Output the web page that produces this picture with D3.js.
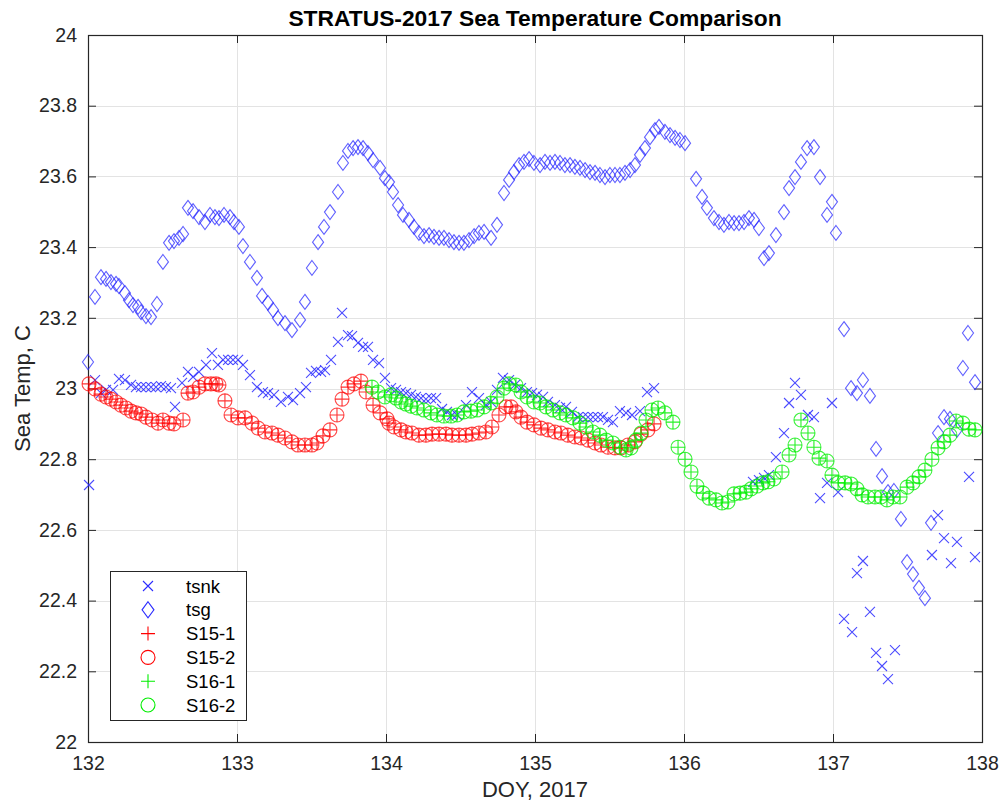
<!DOCTYPE html>
<html>
<head>
<meta charset="utf-8">
<script src="https://cdn.jsdelivr.net/npm/d3@7"></script>
<style>
  html, body { margin: 0; padding: 0; background: #fff; }
  svg { display: block; font-family: "Liberation Sans", Arial, Helvetica, sans-serif; }
</style>
</head>
<body>
<svg id="chart" width="1003" height="807"></svg>
<script>
// Sea temperature records, [DOY, temperature °C]

// ship thermosalinograph intake (tsnk)
const tsnk = [
  [132.007,22.727],[132.047,23.024],[132.087,22.987],[132.121,22.996],[132.168,22.996],[132.208,23.027],
  [132.248,23.024],[132.289,23.010],[132.322,23.004],[132.356,23.004],[132.389,23.004],[132.423,23.004],
  [132.456,23.004],[132.490,23.007],[132.523,23.004],[132.557,23.001],[132.584,22.948],[132.631,23.016],
  [132.671,23.047],[132.705,23.033],[132.745,23.047],[132.792,23.067],[132.832,23.100],[132.872,23.067],
  [132.906,23.081],[132.940,23.081],[132.973,23.081],[133.007,23.081],[133.040,23.067],[133.087,23.038],
  [133.134,23.004],[133.174,22.990],[133.208,22.987],[133.248,22.982],[133.295,22.962],[133.342,22.976],
  [133.376,22.967],[133.423,22.987],[133.463,23.004],[133.497,23.044],[133.530,23.050],[133.564,23.047],
  [133.591,23.052],[133.631,23.081],[133.678,23.132],[133.705,23.214],[133.745,23.151],[133.772,23.148],
  [133.812,23.129],[133.846,23.118],[133.879,23.118],[133.913,23.081],[133.953,23.072],[133.993,23.030],
  [134.034,23.001],[134.067,22.996],[134.101,22.990],[134.134,22.987],[134.168,22.982],[134.201,22.976],
  [134.235,22.973],[134.268,22.970],[134.302,22.973],[134.336,22.973],[134.376,22.942],[134.409,22.934],
  [134.443,22.925],[134.477,22.925],[134.537,22.953],[134.577,22.990],[134.624,22.973],[134.671,22.953],
  [134.705,22.962],[134.745,22.996],[134.785,23.030],[134.826,23.024],[134.866,23.010],[134.906,23.001],
  [134.946,22.990],[134.980,22.987],[135.013,22.982],[135.054,22.976],[135.087,22.962],[135.134,22.953],
  [135.168,22.945],[135.208,22.948],[135.248,22.934],[135.289,22.919],[135.322,22.919],[135.356,22.919],
  [135.389,22.919],[135.423,22.919],[135.456,22.919],[135.490,22.911],[135.523,22.905],[135.570,22.936],
  [135.611,22.931],[135.651,22.925],[135.705,22.936],[135.752,22.990],[135.799,23.001],
  [136.463,22.736],[136.503,22.741],[136.537,22.747],[136.570,22.755],[136.617,22.806],[136.671,22.874],
  [136.705,22.959],[136.745,23.016],[136.785,22.982],[136.832,22.925],[136.872,22.919],[136.913,22.690],
  [136.960,22.733],[136.993,22.959],[137.034,22.707],[137.074,22.348],[137.128,22.311],[137.161,22.478],
  [137.201,22.512],[137.248,22.368],[137.289,22.252],[137.329,22.215],[137.369,22.178],[137.416,22.260],
  [137.664,22.529],[137.705,22.642],[137.745,22.577],[137.792,22.506],[137.832,22.566],[137.913,22.750],
  [137.953,22.523]
];

// hull-mounted sensor (tsg)
const tsg = [
  [132.000,23.075],[132.047,23.259],[132.087,23.315],[132.121,23.310],[132.154,23.301],[132.188,23.296],
  [132.208,23.290],[132.248,23.270],[132.275,23.250],[132.302,23.236],[132.336,23.231],[132.356,23.216],
  [132.389,23.205],[132.423,23.202],[132.463,23.239],[132.503,23.358],[132.544,23.412],[132.577,23.417],
  [132.611,23.426],[132.638,23.437],[132.671,23.511],[132.705,23.502],[132.745,23.485],[132.785,23.471],
  [132.819,23.491],[132.852,23.485],[132.879,23.482],[132.913,23.491],[132.953,23.485],[132.980,23.471],
  [133.013,23.457],[133.040,23.403],[133.087,23.358],[133.134,23.313],[133.168,23.262],[133.208,23.242],
  [133.242,23.222],[133.275,23.199],[133.322,23.185],[133.369,23.165],[133.423,23.194],[133.456,23.245],
  [133.503,23.341],[133.544,23.414],[133.584,23.457],[133.624,23.499],[133.678,23.556],[133.711,23.638],
  [133.745,23.672],[133.779,23.680],[133.812,23.683],[133.846,23.680],[133.879,23.666],[133.913,23.646],
  [133.960,23.624],[133.993,23.595],[134.020,23.584],[134.047,23.556],[134.081,23.519],[134.114,23.491],
  [134.154,23.477],[134.188,23.457],[134.221,23.440],[134.255,23.431],[134.289,23.434],[134.322,23.429],
  [134.356,23.426],[134.389,23.426],[134.423,23.420],[134.456,23.414],[134.490,23.412],[134.523,23.412],
  [134.557,23.420],[134.591,23.431],[134.624,23.440],[134.658,23.443],[134.705,23.426],[134.745,23.463],
  [134.792,23.553],[134.826,23.590],[134.859,23.612],[134.893,23.632],[134.926,23.641],[134.960,23.649],
  [134.993,23.638],[135.034,23.632],[135.067,23.641],[135.101,23.638],[135.134,23.641],[135.168,23.638],
  [135.201,23.632],[135.235,23.632],[135.268,23.627],[135.302,23.624],[135.336,23.618],[135.369,23.612],
  [135.403,23.610],[135.436,23.604],[135.470,23.598],[135.503,23.604],[135.537,23.604],[135.570,23.604],
  [135.604,23.610],[135.638,23.618],[135.671,23.632],[135.705,23.661],[135.738,23.680],[135.772,23.711],
  [135.805,23.731],[135.832,23.740],[135.872,23.726],[135.906,23.717],[135.940,23.709],[135.973,23.703],
  [136.007,23.694],[136.081,23.593],[136.121,23.542],[136.154,23.511],[136.201,23.482],[136.235,23.471],
  [136.268,23.463],[136.302,23.471],[136.336,23.468],[136.369,23.468],[136.403,23.471],[136.436,23.482],
  [136.470,23.477],[136.503,23.454],[136.537,23.369],[136.570,23.383],[136.617,23.434],[136.671,23.499],
  [136.705,23.567],[136.745,23.598],[136.785,23.641],[136.826,23.680],[136.872,23.683],[136.913,23.598],
  [136.960,23.491],[136.993,23.528],[137.020,23.440],[137.074,23.168],[137.121,23.001],[137.161,22.987],
  [137.201,23.024],[137.248,22.979],[137.289,22.829],[137.329,22.752],[137.369,22.707],[137.409,22.710],
  [137.456,22.631],[137.497,22.509],[137.537,22.475],[137.577,22.436],[137.617,22.407],[137.658,22.620],
  [137.705,22.874],[137.745,22.919],[137.785,22.914],[137.832,22.883],[137.872,23.058],[137.906,23.157],
  [137.953,23.018]
];

// SBE sensors on the buoy, model 15 (channels -1 and -2 track each other)
const s15 = [
  [132.007,23.013],[132.047,22.999],[132.087,22.984],[132.121,22.976],[132.154,22.970],[132.188,22.962],
  [132.221,22.953],[132.255,22.945],[132.289,22.936],[132.322,22.931],[132.356,22.928],[132.389,22.919],
  [132.430,22.911],[132.470,22.902],[132.503,22.911],[132.544,22.902],[132.577,22.900],[132.638,22.911],
  [132.671,22.987],[132.705,22.990],[132.745,23.004],[132.785,23.013],[132.825,23.013],[132.859,23.013],
  [132.879,23.010],[132.919,22.965],[132.960,22.925],[133.007,22.917],[133.054,22.917],[133.101,22.902],
  [133.141,22.888],[133.188,22.877],[133.235,22.874],[133.275,22.868],[133.322,22.860],[133.369,22.849],
  [133.409,22.840],[133.456,22.840],[133.503,22.840],[133.537,22.846],[133.577,22.866],[133.624,22.883],
  [133.671,22.925],[133.705,22.970],[133.745,23.004],[133.785,23.013],[133.832,23.021],[133.866,22.990],
  [133.913,22.953],[133.960,22.931],[134.007,22.914],[134.020,22.902],[134.054,22.891],[134.101,22.883],
  [134.134,22.877],[134.174,22.874],[134.221,22.868],[134.268,22.868],[134.309,22.871],[134.356,22.871],
  [134.403,22.871],[134.443,22.868],[134.490,22.868],[134.537,22.868],[134.577,22.871],[134.624,22.874],
  [134.671,22.877],[134.711,22.891],[134.758,22.925],[134.805,22.948],[134.839,22.948],[134.872,22.934],
  [134.906,22.919],[134.946,22.905],[134.993,22.897],[135.040,22.888],[135.087,22.883],[135.134,22.877],
  [135.174,22.874],[135.221,22.868],[135.268,22.863],[135.309,22.860],[135.356,22.854],[135.403,22.846],
  [135.443,22.840],[135.490,22.834],[135.537,22.832],[135.577,22.832],[135.624,22.840],[135.671,22.849],
  [135.711,22.871],[135.758,22.883],[135.799,22.900]
];

// SBE sensors on the buoy, model 16 (channels -1 and -2 track each other)
const s16 = [
  [133.906,23.004],[133.946,22.990],[133.993,22.976],[134.034,22.982],[134.067,22.973],[134.101,22.962],
  [134.134,22.956],[134.168,22.950],[134.208,22.945],[134.255,22.939],[134.302,22.931],[134.342,22.925],
  [134.389,22.922],[134.436,22.922],[134.477,22.925],[134.523,22.934],[134.570,22.936],[134.611,22.939],
  [134.658,22.948],[134.705,22.959],[134.745,22.976],[134.792,23.001],[134.826,23.013],[134.872,23.010],
  [134.906,22.990],[134.946,22.976],[134.993,22.962],[135.034,22.959],[135.074,22.948],[135.121,22.939],
  [135.168,22.931],[135.208,22.925],[135.255,22.917],[135.302,22.902],[135.342,22.891],[135.389,22.877],
  [135.436,22.868],[135.477,22.854],[135.523,22.846],[135.570,22.834],[135.611,22.826],[135.644,22.832],
  [135.678,22.854],[135.711,22.874],[135.745,22.911],[135.785,22.939],[135.826,22.945],[135.872,22.931],
  [135.926,22.905],[135.960,22.834],[136.007,22.800],[136.047,22.764],[136.087,22.724],[136.128,22.704],
  [136.168,22.690],[136.215,22.685],[136.255,22.676],[136.295,22.679],[136.336,22.702],[136.376,22.704],
  [136.416,22.707],[136.450,22.716],[136.490,22.724],[136.530,22.733],[136.564,22.736],[136.604,22.744],
  [136.658,22.764],[136.705,22.812],[136.745,22.840],[136.785,22.911],[136.832,22.874],[136.872,22.834],
  [136.906,22.803],[136.960,22.795],[136.993,22.755],[137.034,22.733],[137.081,22.733],[137.121,22.730],
  [137.161,22.716],[137.195,22.699],[137.235,22.693],[137.282,22.693],[137.322,22.693],[137.362,22.685],
  [137.403,22.693],[137.450,22.693],[137.497,22.721],[137.537,22.733],[137.577,22.750],[137.617,22.769],
  [137.664,22.800],[137.705,22.832],[137.745,22.849],[137.785,22.868],[137.826,22.908],[137.872,22.902],
  [137.913,22.885],[137.953,22.883]
];

const xTicks = [132, 133, 134, 135, 136, 137, 138];
const yTicks = [22, 22.2, 22.4, 22.6, 22.8, 23, 23.2, 23.4, 23.6, 23.8, 24];
const legendLabels = ["tsnk", "tsg", "S15-1", "S15-2", "S16-1", "S16-2"];

const BLUE = "#2b2bff", RED = "#ff0000", GREEN = "#00ee00";

const svg = d3.select("#chart");
const m = { left: 88, right: 982, top: 35, bottom: 742 };

const x = d3.scaleLinear().domain([132, 138]).range([m.left, m.right]);
const y = d3.scaleLinear().domain([22, 24]).range([m.bottom, m.top]);

// grid
const grid = svg.append("g").attr("stroke", "#e3e3e3").attr("stroke-width", 1);
grid.selectAll(".gx").data(xTicks.slice(1, -1)).join("line")
  .attr("x1", d => Math.round(x(d)) + 0.5).attr("x2", d => Math.round(x(d)) + 0.5)
  .attr("y1", m.top).attr("y2", m.bottom);
grid.selectAll(".gy").data(yTicks.slice(1, -1)).join("line")
  .attr("y1", d => Math.round(y(d)) + 0.5).attr("y2", d => Math.round(y(d)) + 0.5)
  .attr("x1", m.left).attr("x2", m.right);

// axes with inward ticks on all four sides
const fmt = d => String(+d.toFixed(1));
const axB = d3.axisBottom(x).tickValues(xTicks).tickSize(-8).tickPadding(14).tickFormat(fmt);
const axL = d3.axisLeft(y).tickValues(yTicks).tickSize(-8).tickPadding(11).tickFormat(fmt);
const axT = d3.axisTop(x).tickValues(xTicks).tickSize(-8).tickFormat("");
const axR = d3.axisRight(y).tickValues(yTicks).tickSize(-8).tickFormat("");

function styleAxis(g) {
  g.attr("font-size", null).attr("font-family", null);
  g.select(".domain").remove();
  g.selectAll(".tick line").attr("stroke", "#262626");
  g.selectAll(".tick text").attr("fill", "#262626").attr("font-size", "19.5px")
    .attr("font-family", "'Liberation Sans', Arial, sans-serif");
}
svg.append("g").attr("transform", `translate(0,${m.bottom})`).call(axB).call(styleAxis);
svg.append("g").attr("transform", `translate(${m.left},0)`).call(axL).call(styleAxis);
svg.append("g").attr("transform", `translate(0,${m.top})`).call(axT).call(styleAxis);
svg.append("g").attr("transform", `translate(${m.right},0)`).call(axR).call(styleAxis);

// frame
svg.append("rect")
  .attr("x", m.left + 0.5).attr("y", m.top + 0.5)
  .attr("width", m.right - m.left).attr("height", m.bottom - m.top)
  .attr("fill", "none").attr("stroke", "#262626").attr("stroke-width", 1.2);

// marker path generators, centred at 0,0
const markers = {
  x: s => `M${-s},${-s}L${s},${s}M${-s},${s}L${s},${-s}`,
  plus: s => `M${-s},0L${s},0M0,${-s}L0,${s}`,
  diamond: s => `M0,${-s * 1.15}L${s * 0.85},0L0,${s * 1.15}L${-s * 0.85},0Z`,
  circle: s => { const p = d3.path(); p.moveTo(s, 0); p.arc(0, 0, s, 0, 2 * Math.PI); p.closePath(); return p.toString(); }
};

const series = [
  { name: "tsnk", data: tsnk, shape: "x", size: 5, color: BLUE, op: 0.85 },
  { name: "tsg", data: tsg, shape: "diamond", size: 6.5, color: BLUE, op: 0.75 },
  { name: "S15-1", data: s15, shape: "plus", size: 7, color: RED, op: 0.8 },
  { name: "S15-2", data: s15, shape: "circle", size: 7, color: RED, op: 0.7 },
  { name: "S16-1", data: s16, shape: "plus", size: 7, color: GREEN, op: 0.85 },
  { name: "S16-2", data: s16, shape: "circle", size: 7, color: GREEN, op: 0.75 }
];

const plot = svg.append("g");
series.forEach(s => {
  plot.append("g").selectAll("path").data(s.data).join("path")
    .attr("transform", d => `translate(${x(d[0])},${y(d[1])})`)
    .attr("d", markers[s.shape](s.size))
    .attr("fill", "none").attr("stroke", s.color)
    .attr("stroke-opacity", s.op).attr("stroke-width", 1.1);
});

// legend
const lg = svg.append("g").attr("transform", "translate(110,571)");
lg.append("rect").attr("x", 0.5).attr("y", 0.5).attr("width", 136).attr("height", 149)
  .attr("fill", "#fff").attr("stroke", "#262626").attr("stroke-width", 1);
series.forEach((s, i) => {
  const ry = 15 + i * 23.8;
  lg.append("path").attr("transform", `translate(38,${ry})`)
    .attr("d", markers[s.shape](s.shape === "x" ? 5 : 7))
    .attr("fill", "none").attr("stroke", s.color).attr("stroke-width", 1.1);
  lg.append("text").attr("x", 76).attr("y", ry + 6.5).text(legendLabels[i])
    .attr("fill", "#000").attr("font-size", "18.5px");
});

// title and axis labels
svg.append("text").attr("x", (m.left + m.right) / 2).attr("y", 26)
  .attr("text-anchor", "middle").attr("font-weight", "bold")
  .attr("font-size", "22.8px").attr("fill", "#000")
  .text("STRATUS-2017 Sea Temperature Comparison");
svg.append("text").attr("x", (m.left + m.right) / 2).attr("y", 797)
  .attr("text-anchor", "middle").attr("font-size", "22px").attr("fill", "#262626")
  .text("DOY, 2017");
svg.append("text").attr("transform", `translate(30,${(m.top + m.bottom) / 2}) rotate(-90)`)
  .attr("text-anchor", "middle").attr("font-size", "22px").attr("fill", "#262626")
  .text("Sea Temp, C");
</script>
</body>
</html>
